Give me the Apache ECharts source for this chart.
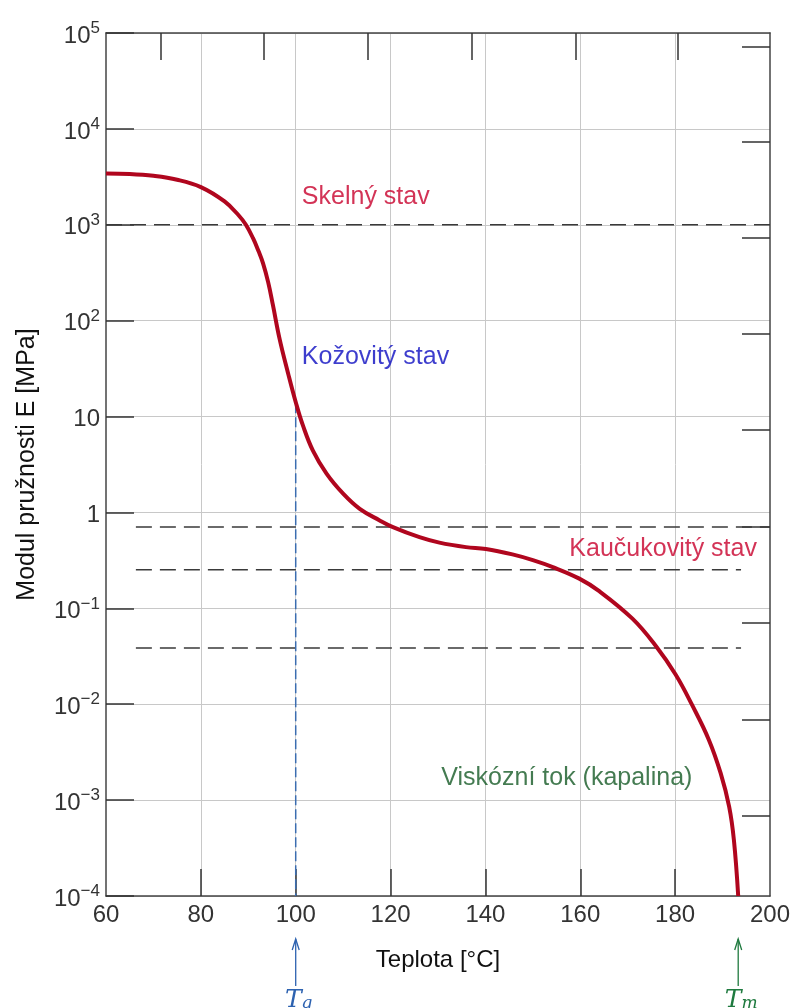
<!DOCTYPE html>
<html><head><meta charset="utf-8">
<script src="https://cdn.jsdelivr.net/npm/echarts@6/dist/echarts.min.js"></script>
<style>html,body{margin:0;padding:0;background:#fff}#c{width:793px;height:1008px}</style>
</head><body><div id="c"></div>
<script>
// Curve: temperature [°C] vs modulus E [MPa]
const temperature = [60, 65, 70, 75, 80, 85, 88, 89.5, 91, 92.2, 93.1, 94.2, 95.2, 96.6, 98.4, 100.1, 101.5, 103.6, 106.5, 110, 113.5, 117.7, 120.5, 126.1, 130.3, 135.9, 140.1, 145.7, 150, 154.2, 159.8, 164, 171, 175.9, 180.1, 183.6, 187.1, 189.6, 191.4, 192.4, 193.3];
const modulus = [3430, 3390, 3240, 2950, 2470, 1750, 1250, 1000, 724, 525, 398, 251, 145, 64.6, 28.2, 13.6, 8.13, 4.44, 2.54, 1.57, 1.09, 0.826, 0.703, 0.552, 0.484, 0.435, 0.416, 0.365, 0.318, 0.269, 0.204, 0.151, 0.078, 0.0407, 0.0204, 0.00977, 0.00427, 0.00191, 0.000851, 0.00038, 0.0001];
const xTickLabels = [60, 80, 100, 120, 140, 160, 180, 200];
const bottomTickValues = [80, 100, 120, 140, 160, 180];
const topTickValues = [71.6, 93.3, 115.2, 137.1, 159.0, 180.6];
const rightTickExponents = [4.854, 3.862, 2.86, 1.86, 0.858, -0.146, -1.154, -2.158, -3.16];
// dashed reference levels
const levelValues = [1000, 0.706, 0.253, 0.0385];
const levelFrom = [60, 66.3, 66.3, 66.3];
const levelTo = [200, 200, 193.9, 193.9];
// Tg / Tm
const tgValue = 100, tgModulus = 13.8, tmValue = 193.3;
// region labels
const regionNames = ['Skelný stav', 'Kožovitý stav', 'Kaučukovitý stav', 'Viskózní tok (kapalina)'];
const regionX = [101.3, 101.3, 157.7, 130.7];
const regionY = [1941, 41.5, 0.411, 0.001714];
const regionColors = ['#c8002c', '#0c0cc0', '#c8002c', '#155a26'];

const FONT = 'Liberation Sans, Arial, sans-serif';
const chart = echarts.init(document.getElementById('c'), null, {renderer: 'canvas'});

const levelSeries = levelValues.map((v, i) => ({
  type: 'line', data: [[levelFrom[i], v], [levelTo[i], v]], symbol: 'none', silent: true, z: 3,
  lineStyle: {color: '#3a3a3a', width: 1.5, type: [16, 8]}
}));

const option = {
  animation: false,
  backgroundColor: '#fff',
  grid: {left: 106, right: 22.5, top: 33, bottom: 112},
  xAxis: [{
    type: 'value', min: 60, max: 200, interval: 20, position: 'bottom',
    name: 'Teplota [°C]', nameLocation: 'middle', nameGap: 52,
    nameTextStyle: {fontFamily: FONT, fontSize: 24, color: '#111'},
    axisLine: {show: true, onZero: false, lineStyle: {color: '#444', width: 1.5}},
    axisTick: {show: true, inside: true, length: 27, customValues: bottomTickValues, lineStyle: {color: '#333', width: 1.5}},
    axisLabel: {show: true, customValues: xTickLabels, margin: 7, fontFamily: FONT, fontSize: 24, color: '#333', showMinLabel: true, showMaxLabel: true},
    splitLine: {show: true, lineStyle: {color: '#c8c8c8', width: 1}}
  }, {
    type: 'value', min: 60, max: 200, position: 'top',
    axisLine: {show: true, onZero: false, lineStyle: {color: '#444', width: 1.5}},
    axisTick: {show: true, inside: true, length: 27, customValues: topTickValues, lineStyle: {color: '#333', width: 1.5}},
    axisLabel: {show: false}, splitLine: {show: false}
  }],
  yAxis: [{
    type: 'log', logBase: 10, min: 1e-4, max: 1e5, position: 'left',
    name: 'Modul pružnosti E [MPa]', nameLocation: 'middle', nameGap: 66, nameRotate: 90,
    nameTextStyle: {fontFamily: FONT, fontSize: 25, color: '#111'},
    axisLine: {show: true, onZero: false, lineStyle: {color: '#444', width: 1.5}},
    axisTick: {show: true, inside: true, length: 28, lineStyle: {color: '#333', width: 1.5}},
    axisLabel: {
      margin: 6,
      formatter: v => {
        const e = Math.round(Math.log10(v));
        if (e === 1) return '{b|10}';
        if (e === 0) return '{b|1}';
        return '{b|10}{e|' + (e < 0 ? '\u2212' + (-e) : e) + '}';
      },
      rich: {
        b: {fontFamily: FONT, fontSize: 24, color: '#333', lineHeight: 26, padding: [6, 0, 0, 0]},
        e: {fontFamily: FONT, fontSize: 17, color: '#333', lineHeight: 15, verticalAlign: 'top'}
      }
    },
    splitLine: {show: true, lineStyle: {color: '#c8c8c8', width: 1}}
  }, {
    type: 'value', min: -4, max: 5, position: 'right',
    axisLine: {show: true, onZero: false, lineStyle: {color: '#444', width: 1.5}},
    axisTick: {show: true, inside: true, length: 28, customValues: rightTickExponents, lineStyle: {color: '#333', width: 1.5}},
    axisLabel: {show: false}, splitLine: {show: false}
  }],
  series: [
    ...levelSeries,
    {
      type: 'line', data: [[tgValue, tgModulus], [tgValue, 1e-4]], symbol: 'none', silent: true, z: 4,
      lineStyle: {color: '#3b6db0', width: 1.5, type: [10, 4]}
    },
    {
      type: 'line', data: temperature.map((t, i) => [t, modulus[i]]), symbol: 'none',
      smooth: 0.4, z: 6,
      lineStyle: {color: '#b0061e', width: 4}
    },
    {
      type: 'scatter', symbolSize: 0, z: 7, silent: true,
      data: regionNames.map((n, i) => ({
        name: n, value: [regionX[i], regionY[i]],
        label: {show: true, position: 'right', distance: 0, formatter: '{b}', color: regionColors[i], fontFamily: FONT, fontSize: 25}
      }))
    }
  ]
};
chart.setOption(option);

// Tg / Tm markers below the axis
const yBottom = chart.convertToPixel({yAxisIndex: 0}, 1e-4);
function marker(xv, color, sub) {
  const x = chart.convertToPixel({xAxisIndex: 0}, xv);
  const top = yBottom + 43, bot = yBottom + 90;
  return [
    {type: 'line', shape: {x1: x, y1: top, x2: x, y2: bot}, style: {stroke: color, lineWidth: 1.3}, silent: true},
    {type: 'polyline', shape: {points: [[x - 3.5, top + 11], [x, top], [x + 3.5, top + 11]]}, style: {stroke: color, lineWidth: 1.3, fill: null}, silent: true},
    {type: 'text', x: x + 3, y: bot + 2, silent: true,
      style: {text: '{t|T}{s|' + sub + '}', align: 'center', verticalAlign: 'top',
        rich: {
          t: {fontFamily: 'DejaVu Serif', fontStyle: 'italic', fontSize: 25, fill: color, lineHeight: 24},
          s: {fontFamily: 'DejaVu Serif', fontStyle: 'italic', fontSize: 17, fill: color, lineHeight: 14, verticalAlign: 'bottom'}
        }}}
  ];
}
chart.setOption({graphic: [...marker(tgValue, '#2d62b0', 'g'), ...marker(tmValue, '#1f7a3f', 'm')]});
</script>
</body></html>
